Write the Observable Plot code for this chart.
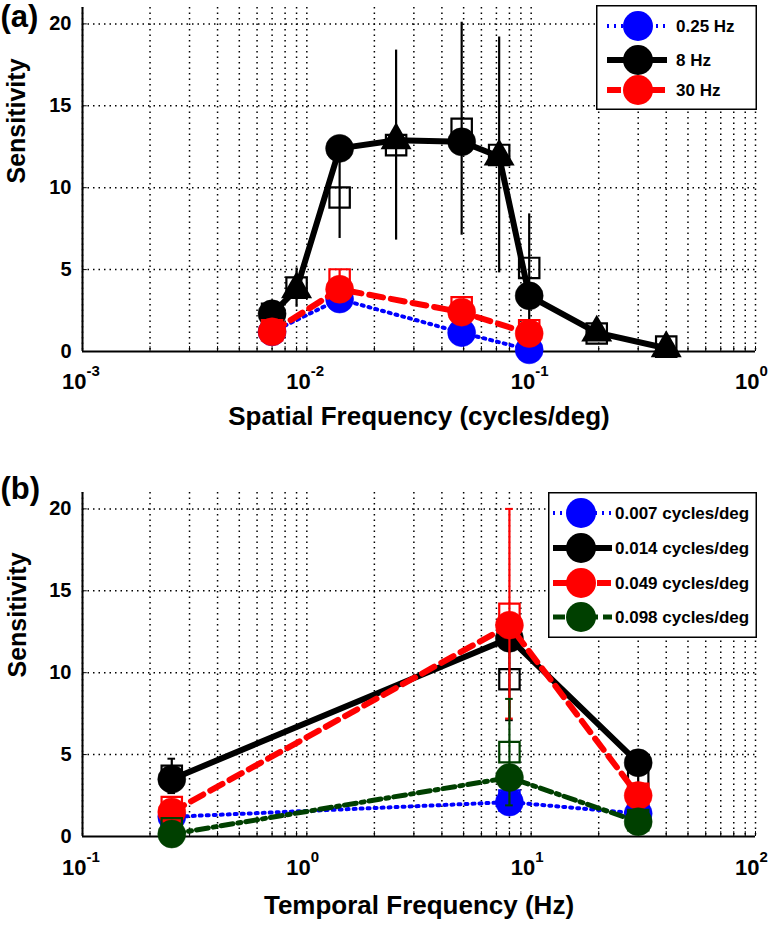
<!DOCTYPE html>
<html>
<head>
<meta charset="utf-8">
<script src="https://cdn.jsdelivr.net/npm/d3@7"></script>
<script src="https://cdn.jsdelivr.net/npm/@observablehq/plot@0.6"></script>
<style>
  body { margin: 0; background: #fff; }
  #page { position: relative; width: 774px; height: 926px; overflow: hidden;
          font-family: "Liberation Sans", Arial, sans-serif; font-weight: bold; }
  .panel { position: absolute; left: 0; }
  .legend { position: absolute; }
</style>
</head>
<body>
<div id="page"></div>
<script>
// ---------------- data ----------------
// Panel (a): sensitivity vs spatial frequency
const sfMain = [0.007, 0.014, 0.049, 0.098];
const sens025Hz = [1.2, 3.2, 1.15, 0.1];
const sens30Hz = [1.2, 3.8, 2.4, 1.1];
const sf8Hz = [0.007, 0.009, 0.014, 0.025, 0.049, 0.072, 0.098, 0.196, 0.4];
const sens8Hz = [2.3, 3.8, 12.4, 12.9, 12.8, 11.9, 3.4, 1.15, 0.2];
// open squares with error bars (panel a)
const sqSfA8 = [0.007, 0.009, 0.014, 0.025, 0.049, 0.072, 0.098, 0.196, 0.4];
const sqMeanA8 = [2.3, 3.9, 9.4, 12.6, 13.6, 12.0, 5.1, 1.1, 0.3];
const sqErrA8 = [0.3, 1.2, 2.5, 5.8, 6.5, 7.2, 3.3, 0.3, 0.2];
const sqSfA30 = [0.007, 0.014, 0.049, 0.098];
const sqMeanA30 = [1.3, 4.4, 2.7, 1.3];
const sqErrA30 = [0.2, 0.6, 0.4, 0.3];
const legendA = ["0.25 Hz", "8 Hz", "30 Hz"];

// Panel (b): sensitivity vs temporal frequency
const tf = [0.25, 8, 30];
const sens007 = [1.2, 2.1, 1.4];
const sens014 = [3.5, 12.1, 4.5];
const sens049 = [1.5, 12.9, 2.5];
const sens098 = [0.15, 3.6, 0.9];
const sqMean007 = [1.3, 2.2, 1.3];
const sqErr007 = [0.2, 0.3, 0.2];
const sqMean014 = [3.7, 9.6, 3.5];
const sqErr014 = [1.05, 2.5, 0.5];
const sqMean049 = [1.8, 13.6, 2.6];
const sqErr049 = [0.3, 6.4, 0.4];
const sqMean098 = [0.5, 5.15, 1.0];
const sqErr098 = [0.3, 3.25, 0.3];
const legendB = ["0.007 cycles/deg", "0.014 cycles/deg", "0.049 cycles/deg", "0.098 cycles/deg"];

// axes
const yTicks = [0, 5, 10, 15, 20];
const yGridVals = [5, 10, 15, 20];
const xTicksA = [0.001, 0.01, 0.1, 1];
const xExpA = ["-3", "-2", "-1", "0"];
const xTicksB = [0.1, 1, 10, 100];
const xExpB = ["-1", "0", "1", "2"];
const xTitleA = "Spatial Frequency (cycles/deg)";
const xTitleB = "Temporal Frequency (Hz)";
const yTitle = "Sensitivity";

// ---------------- helpers ----------------
const zip = (xs, ys) => xs.map((x, i) => ({x, y: ys[i]}));
const zipErr = (xs, ys, es) => xs.map((x, i) => ({x, y: ys[i], e: es[i]}));
function logGrid(lo, hi) {
  const out = [];
  for (let k = Math.round(Math.log10(lo)); k < Math.round(Math.log10(hi)); k++)
    for (let m = 1; m < 10; m++) out.push(m * Math.pow(10, k));
  out.push(hi);
  return out;
}

const BLUE = "#0000ff", BLACK = "#000000", RED = "#ff0000", GREEN = "#004000";
const styles = {
  blue:  {color: BLUE,  width: 4,   dash: "2,5"},
  black: {color: BLACK, width: 6,   dash: null},
  red:   {color: RED,   width: 6,   dash: "14,8"},
  green: {color: GREEN, width: 5,   dash: "12,5,3,5"}
};

function buildPanel(o) {
  const lo = o.domain[0];
  const dotted = {stroke: "#000", strokeWidth: 1.5, strokeDasharray: "1.5,4"};
  const grid = logGrid(o.domain[0], o.domain[1]);
  const marks = [
    Plot.ruleX(grid, dotted),
    Plot.ruleY(yGridVals, dotted),
    Plot.ruleX(grid, {y1: 0, y2: 0.3, stroke: "#000", strokeWidth: 1}),
    Plot.ruleY(yGridVals, {x1: lo, x2: lo * 1.05, stroke: "#000", strokeWidth: 1}),
    Plot.ruleY([0], {stroke: "#000", strokeWidth: 2}),
    Plot.ruleX([lo], {stroke: "#000", strokeWidth: 2})
  ];
  for (const s of o.series) {
    const st = styles[s.style];
    if (s.err) {
      marks.push(Plot.ruleX(s.err, {x: "x", y1: d => d.y - d.e, y2: d => d.y + d.e, stroke: st.color, strokeWidth: 2.2}));
      if (o.caps) {
        const ends = s.err.flatMap(d => [{x: d.x, y: d.y - d.e}, {x: d.x, y: d.y + d.e}]);
        marks.push(Plot.ruleY(ends, {y: "y", x1: d => d.x / 1.04, x2: d => d.x * 1.04, stroke: st.color, strokeWidth: 2}));
      }
      marks.push(Plot.dot(s.err, {x: "x", y: "y", symbol: "square", r: 11.5, fill: "none", stroke: st.color, strokeWidth: 2.2}));
    }
    marks.push(Plot.line(s.data, {x: "x", y: "y", stroke: st.color, strokeWidth: st.width,
      strokeDasharray: st.dash, strokeLinejoin: "round"}));
    const isMain = s.main ? (d => s.main.includes(d.x)) : (() => true);
    marks.push(Plot.dot(s.data.filter(isMain), {x: "x", y: "y", r: 14, fill: st.color, stroke: st.color, strokeWidth: 0.5}));
    if (s.main) {
      marks.push(Plot.dot(s.data.filter(d => !isMain(d)), {x: "x", y: "y", symbol: "triangle", r: 11.5, fill: st.color}));
    }
  }
  // tick labels
  marks.push(Plot.text(yTicks, {x: lo, y: d => d, text: d => String(d), textAnchor: "end", dx: -11,
    lineAnchor: "middle", fontSize: 20, fontWeight: "bold"}));
  marks.push(Plot.text(o.xTicks, {x: d => d, y: 0, text: () => "10", textAnchor: "end", dx: 4, dy: o.tickDy,
    lineAnchor: "bottom", fontSize: 22, fontWeight: "bold"}));
  marks.push(Plot.text(o.xTicks, {x: d => d, y: 0, text: (d, i) => o.xExp[i], textAnchor: "start", dx: 4, dy: o.tickDy - 13,
    lineAnchor: "bottom", fontSize: 15, fontWeight: "bold"}));
  // axis titles
  marks.push(Plot.text([o.xTitle], {frameAnchor: "bottom", dy: o.titleDy, lineAnchor: "bottom",
    fontSize: 26, fontWeight: "bold"}));
  marks.push(Plot.text([yTitle], {frameAnchor: "left", rotate: -90, dx: o.yTitleX - 82, dy: o.yTitleDy,
    lineAnchor: "middle", fontSize: 25, fontWeight: "bold"}));
  // panel label
  marks.push(Plot.text([o.label], {frameAnchor: "top-left", dx: -82, dy: o.labelDy, textAnchor: "start",
    lineAnchor: "bottom", fontSize: 31, fontWeight: "bold"}));

  return Plot.plot({
    width: 774, height: o.height,
    marginLeft: 82, marginRight: 19, marginTop: o.mt, marginBottom: o.mb,
    x: {type: "log", domain: o.domain, axis: null},
    y: {domain: [0, 21], axis: null},
    style: {fontFamily: "'Liberation Sans', Arial, sans-serif", fontWeight: "bold", background: "transparent", overflow: "visible"},
    marks
  });
}

function buildLegend(o) {
  const div = document.createElement("div");
  div.className = "legend";
  div.style.left = o.left + "px";
  div.style.top = o.top + "px";
  const svg = d3.create("svg").attr("width", o.w).attr("height", o.h).style("display", "block");
  svg.append("rect").attr("x", 0.75).attr("y", 0.75).attr("width", o.w - 1.5).attr("height", o.h - 1.5)
    .attr("fill", "#fff").attr("stroke", "#000").attr("stroke-width", 1.5);
  o.items.forEach((it, i) => {
    const st = styles[it.style];
    const y = o.rowY[i];
    svg.append("line").attr("x1", o.lx1).attr("x2", o.lx2).attr("y1", y).attr("y2", y)
      .attr("stroke", st.color).attr("stroke-width", st.width).attr("stroke-dasharray", st.dash);
    svg.append("circle").attr("cx", o.mx).attr("cy", y).attr("r", 15).attr("fill", st.color);
    svg.append("text").attr("x", o.tx).attr("y", y + 6).text(it.label)
      .attr("font-family", "'Liberation Sans', Arial, sans-serif").attr("font-weight", "bold")
      .attr("font-size", 17).attr("fill", "#000");
  });
  div.appendChild(svg.node());
  return div;
}

const page = document.getElementById("page");

// ---------------- panel (a) ----------------
const plotA = buildPanel({
  label: "(a)", labelDy: 19,
  height: 460, mt: 7, mb: 109,
  domain: [0.001, 1], xTicks: xTicksA, xExp: xExpA, xTitle: xTitleA,
  tickDy: 37, titleDy: 73, yTitleX: 16, yTitleDy: 4, caps: false,
  series: [
    {style: "blue", data: zip(sfMain, sens025Hz)},
    {style: "black", data: zip(sf8Hz, sens8Hz), main: sfMain, err: zipErr(sqSfA8, sqMeanA8, sqErrA8)},
    {style: "red", data: zip(sfMain, sens30Hz), err: zipErr(sqSfA30, sqMeanA30, sqErrA30)}
  ]
});
const wrapA = document.createElement("div");
wrapA.className = "panel"; wrapA.style.top = "0px";
wrapA.appendChild(plotA);
page.appendChild(wrapA);

// ---------------- panel (b) ----------------
const plotB = buildPanel({
  label: "(b)", labelDy: 6,
  height: 466, mt: 32, mb: 90,
  domain: [0.1, 100], xTicks: xTicksB, xExp: xExpB, xTitle: xTitleB,
  tickDy: 38, titleDy: 77, yTitleX: 17, yTitleDy: 13, caps: true,
  series: [
    {style: "blue", data: zip(tf, sens007), err: zipErr(tf, sqMean007, sqErr007)},
    {style: "black", data: zip(tf, sens014), err: zipErr(tf, sqMean014, sqErr014)},
    {style: "red", data: zip(tf, sens049), err: zipErr(tf, sqMean049, sqErr049)},
    {style: "green", data: zip(tf, sens098), err: zipErr(tf, sqMean098, sqErr098)}
  ]
});
const wrapB = document.createElement("div");
wrapB.className = "panel"; wrapB.style.top = "460px";
wrapB.appendChild(plotB);
page.appendChild(wrapB);

// ---------------- legends ----------------
page.appendChild(buildLegend({
  left: 596, top: 5, w: 161, h: 105,
  lx1: 11, lx2: 71, mx: 42, tx: 80, rowY: [21, 55, 85],
  items: [
    {style: "blue", label: legendA[0]},
    {style: "black", label: legendA[1]},
    {style: "red", label: legendA[2]}
  ]
}));
page.appendChild(buildLegend({
  left: 548, top: 492, w: 209, h: 146,
  lx1: 5, lx2: 64, mx: 33, tx: 67, rowY: [21, 56, 91, 125],
  items: [
    {style: "blue", label: legendB[0]},
    {style: "black", label: legendB[1]},
    {style: "red", label: legendB[2]},
    {style: "green", label: legendB[3]}
  ]
}));
</script>
</body>
</html>
